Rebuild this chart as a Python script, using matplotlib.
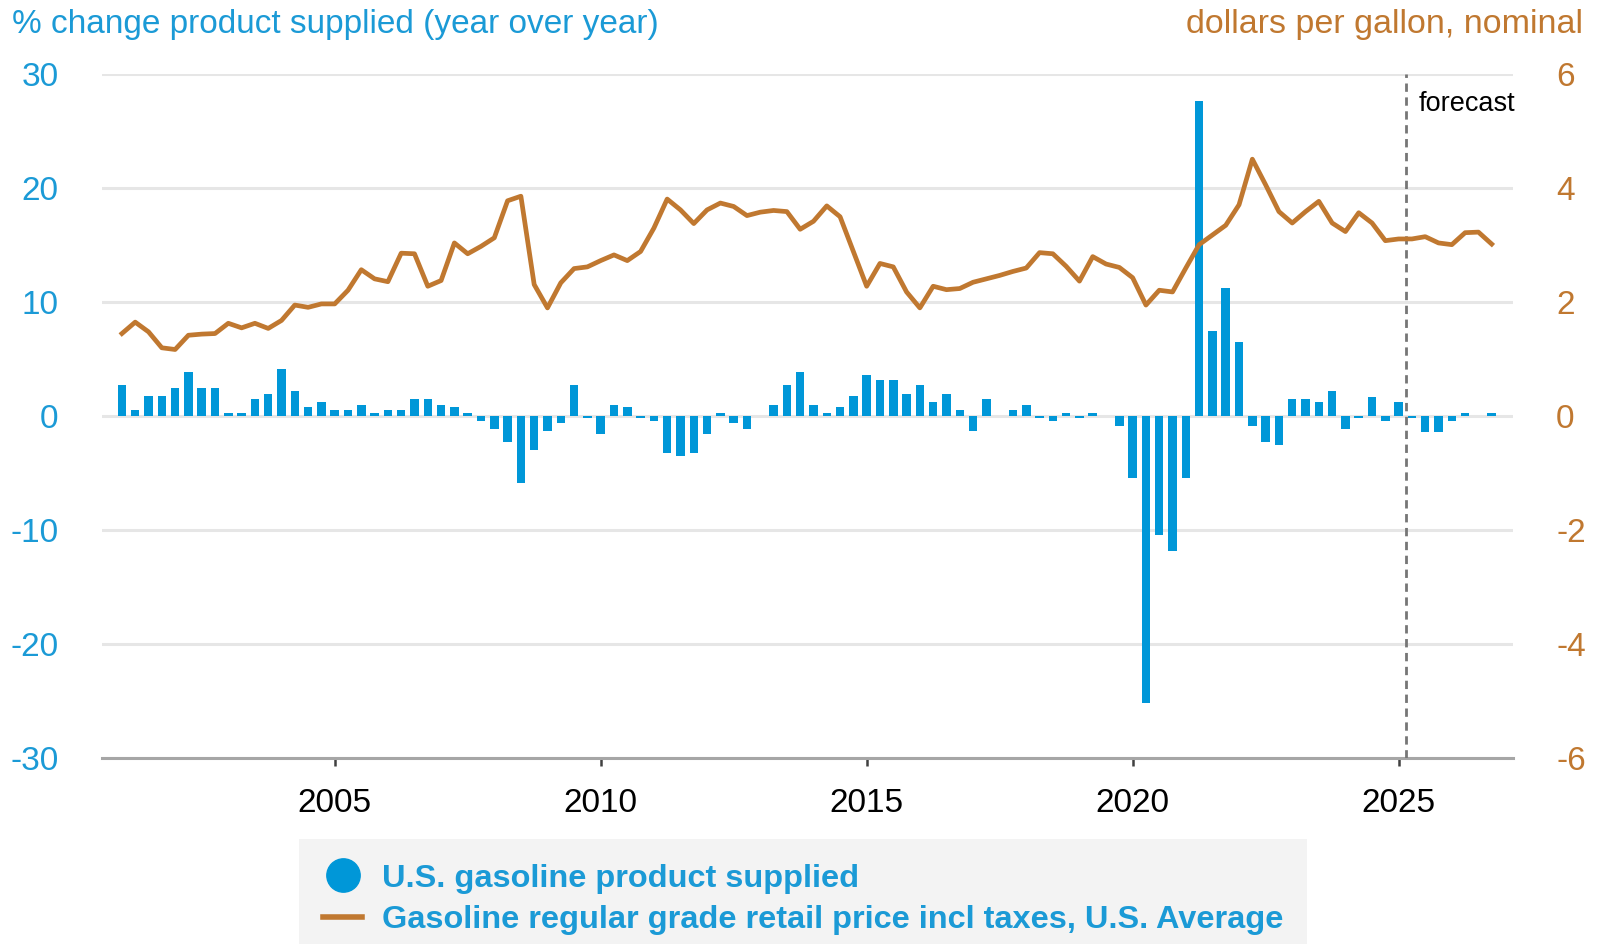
import matplotlib
matplotlib.use("Agg")
import matplotlib.pyplot as plt
from matplotlib.lines import Line2D
import pandas as pd

plt.rcParams['font.family'] = ['Liberation Sans', 'DejaVu Sans']
plt.rcParams['axes.unicode_minus'] = False

# quarterly, 2001Q1 .. 2026Q4
quarters = pd.period_range('2001Q1', '2026Q4', freq='Q')

# % change product supplied (year over year)
pct_change = [
    2.65, 0.52, 1.69, 1.69, 2.42, 3.84, 2.42, 2.42,
    0.26, 0.26, 1.46, 1.92, 4.10, 2.18, 0.73, 1.22,
    0.50, 0.50, 0.96, 0.26, 0.50, 0.50, 1.46, 1.46,
    0.96, 0.73, 0.26, -0.44, -1.14, -2.33, -5.88, -3.06,
    -1.37, -0.67, 2.65, -0.20, -1.63, 0.96, 0.73, -0.20,
    -0.44, -3.29, -3.52, -3.29, -1.63, 0.26, -0.67, -1.14,
    0.00, 0.96, 2.65, 3.84, 0.96, 0.26, 0.73, 1.69,
    3.58, 3.14, 3.14, 1.92, 2.65, 1.22, 1.92, 0.50,
    -1.37, 1.46, 0.00, 0.50, 0.96, -0.20, -0.44, 0.26,
    -0.20, 0.26, 0.00, -0.93, -5.47, -25.2, -10.5, -11.9,
    -5.47, 27.6, 7.38, 11.2, 6.42, -0.93, -2.33, -2.59,
    1.45, 1.45, 1.22, 2.15, -1.16, -0.20, 1.66, -0.44,
    1.22, -0.20, -1.40, -1.40, -0.44, 0.26, 0.00, 0.26,
]

# dollars per gallon, nominal
price = [
    1.44, 1.64, 1.47, 1.19, 1.16, 1.41, 1.43, 1.44,
    1.62, 1.54, 1.62, 1.53, 1.67, 1.94, 1.90, 1.96,
    1.96, 2.20, 2.56, 2.40, 2.35, 2.85, 2.84, 2.27,
    2.37, 3.03, 2.84, 2.97, 3.12, 3.77, 3.85, 2.30,
    1.89, 2.33, 2.58, 2.61, 2.72, 2.82, 2.72, 2.88,
    3.29, 3.80, 3.61, 3.37, 3.61, 3.73, 3.67, 3.51,
    3.57, 3.60, 3.58, 3.27, 3.41, 3.68, 3.49, 2.88,
    2.27, 2.67, 2.61, 2.17, 1.89, 2.27, 2.21, 2.23,
    2.34, 2.40, 2.46, 2.53, 2.59, 2.86, 2.84, 2.62,
    2.36, 2.79, 2.66, 2.60, 2.42, 1.94, 2.20, 2.17,
    2.59, 3.00, 3.17, 3.34, 3.70, 4.50, 4.05, 3.58,
    3.38, 3.58, 3.76, 3.38, 3.23, 3.56, 3.38, 3.07,
    3.10, 3.10, 3.14, 3.03, 3.00, 3.21, 3.22, 3.01,
]

year_ticks = [2005, 2010, 2015, 2020, 2025]
forecast_start = 2025.14

blue = '#0097d8'
blue_txt = '#1b9ad6'
orange = '#c07830'

x = [q.year + (q.quarter - 1) / 4 for q in quarters]

fig = plt.figure(figsize=(15.99, 9.44), dpi=100)
ax = fig.add_axes([101.7 / 1599, (944 - 757.5) / 944, (1513 - 101.7) / 1599, (757.5 - 73.7) / 944])

ax.bar(x, pct_change, width=0.16, color=blue, zorder=2)
ax.set_xlim(2000.62, 2027.15)
ax.set_ylim(-30, 30)
ax.set_yticks(range(-30, 31, 10))
ax.set_xticks(year_ticks)
ax.yaxis.grid(True, color='#e6e6e6', lw=2.2)
ax.set_axisbelow(True)
for s in ['top', 'left', 'right']:
    ax.spines[s].set_visible(False)
ax.spines['bottom'].set_color('#a6a6a6')
ax.spines['bottom'].set_linewidth(2.2)
ax.tick_params(axis='y', length=0, pad=31, labelsize=24, labelcolor=blue_txt)
ax.tick_params(axis='x', length=6, width=1.8, color='#404040', pad=16, labelsize=24)

ax.axvline(forecast_start, color='#767676', ls=(0, (3, 2)), lw=2, zorder=3)
ax.text(2025.38, 27.3, 'forecast', fontsize=19.5, ha='left', va='center')

ax2 = ax.twinx()
ax2.plot(x, price, color=orange, lw=3.4)
ax2.set_ylim(-6, 6)
ax2.set_yticks(range(-6, 7, 2))
for s in ax2.spines.values():
    s.set_visible(False)
ax2.tick_params(axis='y', length=0, pad=31, labelsize=24, labelcolor=orange)
for lab in ax2.get_yticklabels():
    lab.set_horizontalalignment('left')

fig.text(12 / 1599, 1 - 24 / 944, '% change product supplied (year over year)',
         ha='left', va='center', fontsize=24, color=blue_txt)
fig.text(1583 / 1599, 1 - 24 / 944, 'dollars per gallon, nominal',
         ha='right', va='center', fontsize=24.5, color=orange)

handles = [Line2D([], [], marker='o', ls='', color=blue, markersize=24),
           Line2D([], [], color=orange, lw=4)]
labels = ['U.S. gasoline product supplied',
          'Gasoline regular grade retail price incl taxes, U.S. Average']
fig.legend(handles, labels, loc='lower center', bbox_to_anchor=(803 / 1599, -0.034),
           frameon=True, facecolor='#f0f0f0', edgecolor='none', fancybox=False,
           prop={'weight': 'bold', 'size': 23.4}, labelcolor=blue_txt,
           handlelength=1.2, handletextpad=0.6, labelspacing=0.36, borderpad=0.75)

fig.savefig('out.png', dpi=100)
